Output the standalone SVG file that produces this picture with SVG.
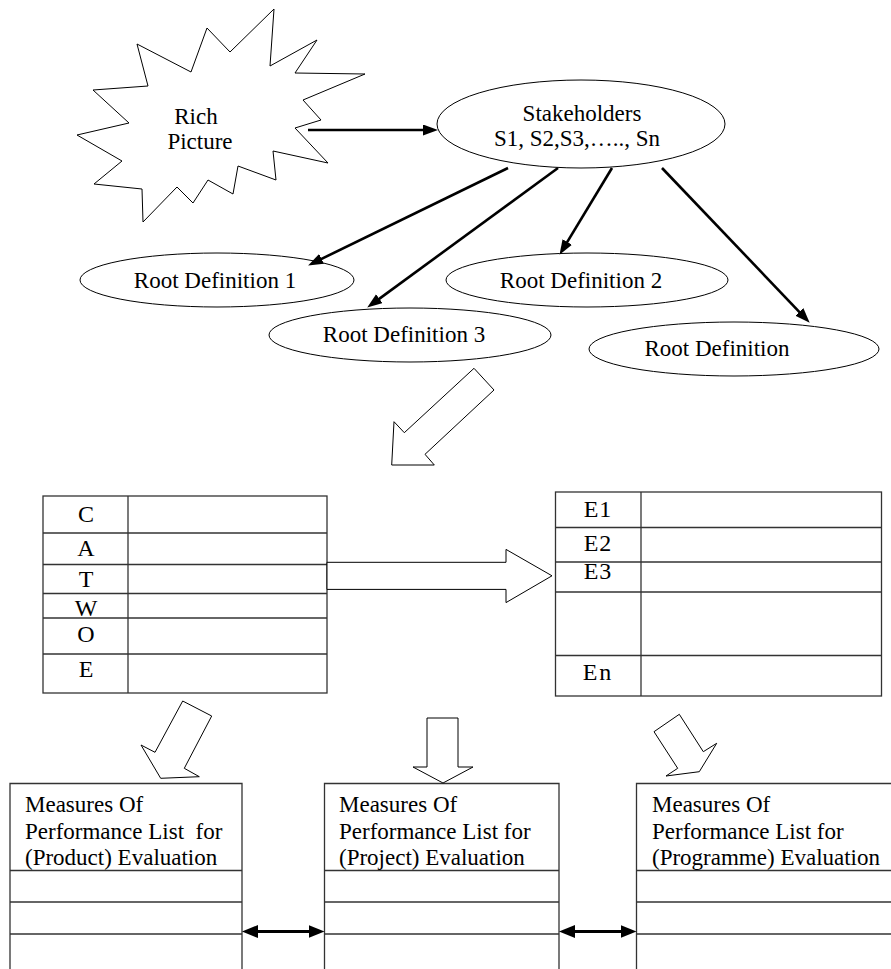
<svg xmlns="http://www.w3.org/2000/svg" width="891" height="969" viewBox="0 0 891 969" font-family="'Liberation Serif', 'Times New Roman', Times, 'DejaVu Serif', serif">
  <style>
    text { font-family: 'Liberation Serif', 'Times New Roman', Times, 'DejaVu Serif', serif; font-size: 23px; fill: #000; }
    .mid { text-anchor: middle; }
    .shape { fill: #fff; stroke: #000; stroke-width: 1; }
    .tbl { fill: none; stroke: #333; stroke-width: 1.3; }
    .conn { fill: none; stroke: #000; stroke-width: 2.6; }
    .dbl { fill: none; stroke: #000; stroke-width: 3.2; }
    .hollow { fill: #fff; stroke: #000; stroke-width: 1; stroke-linejoin: miter; }
    .cat { font-size: 24px; }
  </style>
  <defs>
    <marker id="head" markerUnits="userSpaceOnUse" markerWidth="16" markerHeight="12" refX="4" refY="5.5" orient="auto">
      <path d="M0,0 L15,5.5 L0,11 z" fill="#000"/>
    </marker>
    <marker id="head2" markerUnits="userSpaceOnUse" markerWidth="17" markerHeight="14" refX="6" refY="6.5" orient="auto-start-reverse">
      <path d="M0,0 L16,6.5 L0,13 z" fill="#000"/>
    </marker>
  </defs>

  <rect width="891" height="969" fill="#fff"/>

  <!-- Rich picture starburst -->
  <g id="rich-picture">
    <polygon class="shape" points="274,9 270,66 317,40 295,73 365,74 303,100 321,120 295,128 328,163 273,151 276,180 238,166 233,194 208,180 193,203 177,187 143,222 142,189 94,184 122,161 77,135 129,123 93,90 148,86 137,44 191,72 207,28 230,52"/>
    <text class="mid" x="196" y="124">Rich</text>
    <text class="mid" x="200" y="149">Picture</text>
  </g>

  <g id="stakeholders">
    <ellipse class="shape" cx="581" cy="124" rx="144" ry="44"/>
    <text class="mid" x="582" y="120.5">Stakeholders</text>
    <text class="mid" x="577" y="146">S1, S2,S3,….., Sn</text>
  </g>

  <g id="root-def-1">
    <ellipse class="shape" cx="217" cy="280" rx="137" ry="27"/>
    <text class="mid" x="215" y="288">Root Definition 1</text>
  </g>
  <g id="root-def-2">
    <ellipse class="shape" cx="587" cy="280" rx="141" ry="27"/>
    <text class="mid" x="581" y="288">Root Definition 2</text>
  </g>
  <g id="root-def-3">
    <ellipse class="shape" cx="410" cy="335" rx="141" ry="27"/>
    <text class="mid" x="404" y="342">Root Definition 3</text>
  </g>
  <g id="root-def-n">
    <ellipse class="shape" cx="734" cy="349" rx="145" ry="27"/>
    <text class="mid" x="717" y="356">Root Definition</text>
  </g>

  <!-- CATWOE table -->
  <g id="catwoe-table">
    <rect class="tbl" x="43" y="496" width="284" height="197"/>
    <line class="tbl" x1="128" y1="496" x2="128" y2="693"/>
    <line class="tbl" x1="43" y1="533" x2="327" y2="533"/>
    <line class="tbl" x1="43" y1="564.5" x2="327" y2="564.5"/>
    <line class="tbl" x1="43" y1="593.5" x2="327" y2="593.5"/>
    <line class="tbl" x1="43" y1="618" x2="327" y2="618"/>
    <line class="tbl" x1="43" y1="654" x2="327" y2="654"/>
    <text class="mid cat" x="86" y="522">C</text>
    <text class="mid cat" x="86" y="556">A</text>
    <text class="mid cat" x="86" y="587">T</text>
    <text class="mid cat" x="86" y="616">W</text>
    <text class="mid cat" x="86" y="642">O</text>
    <text class="mid cat" x="86" y="677">E</text>
  </g>

  <!-- Evaluation table -->
  <g id="e-table">
    <rect class="tbl" x="555.5" y="492" width="326" height="204"/>
    <line class="tbl" x1="641" y1="492" x2="641" y2="696"/>
    <line class="tbl" x1="555.5" y1="527.5" x2="881.5" y2="527.5"/>
    <line class="tbl" x1="555.5" y1="562" x2="881.5" y2="562"/>
    <line class="tbl" x1="555.5" y1="592" x2="881.5" y2="592"/>
    <line class="tbl" x1="555.5" y1="655.5" x2="881.5" y2="655.5"/>
    <text class="mid cat" x="598" y="517" letter-spacing="1">E1</text>
    <text class="mid cat" x="598" y="551" letter-spacing="1">E2</text>
    <text class="mid cat" x="598" y="579" letter-spacing="1">E3</text>
    <text class="mid cat" x="598" y="680" letter-spacing="2">En</text>
  </g>

  <!-- Measures of performance lists -->
  <g id="mop-product">
    <polyline class="tbl" points="10,969 10,783.5 242,783.5 242,969"/>
    <line class="tbl" x1="10" y1="870.5" x2="242" y2="870.5"/>
    <line class="tbl" x1="10" y1="902" x2="242" y2="902"/>
    <line class="tbl" x1="10" y1="934" x2="242" y2="934"/>
    <text x="25" y="812">Measures Of</text>
    <text x="25" y="838.5" xml:space="preserve">Performance List  for</text>
    <text x="25" y="864.5">(Product) Evaluation</text>
  </g>
  <g id="mop-project">
    <polyline class="tbl" points="324.5,969 324.5,783.5 559,783.5 559,969"/>
    <line class="tbl" x1="324.5" y1="870.5" x2="559" y2="870.5"/>
    <line class="tbl" x1="324.5" y1="902" x2="559" y2="902"/>
    <line class="tbl" x1="324.5" y1="934" x2="559" y2="934"/>
    <text x="339" y="812">Measures Of</text>
    <text x="339" y="838.5">Performance List for</text>
    <text x="339" y="864.5">(Project) Evaluation</text>
  </g>
  <g id="mop-programme">
    <polyline class="tbl" points="636.5,969 636.5,783.5 891,783.5"/>
    <line class="tbl" x1="636.5" y1="870.5" x2="891" y2="870.5"/>
    <line class="tbl" x1="636.5" y1="902" x2="891" y2="902"/>
    <line class="tbl" x1="636.5" y1="934" x2="891" y2="934"/>
    <text x="652" y="812">Measures Of</text>
    <text x="652" y="838.5">Performance List for</text>
    <text x="652" y="864.5">(Programme) Evaluation</text>
  </g>

  <!-- Connectors -->
  <g id="connectors">
    <line class="conn" x1="308" y1="130" x2="427" y2="130" marker-end="url(#head)"/>
    <line class="conn" x1="508" y1="168" x2="318" y2="260.6" marker-end="url(#head)"/>
    <line class="conn" x1="558" y1="168" x2="376.1" y2="301.1" marker-end="url(#head)"/>
    <line class="conn" x1="612" y1="168" x2="565.2" y2="245.4" marker-end="url(#head)"/>
    <line class="conn" x1="662" y1="168" x2="802.1" y2="314.8" marker-end="url(#head)"/>

    <!-- block arrows -->
    <polygon class="hollow" points="474,368.3 494,390 425,454.3 434.3,465 391.7,465 394,421.7 404.3,432.7"/>
    <polygon class="hollow" points="327,562.3 506,562.3 506,549.4 552,575.8 506,602.6 506,589.4 327,589.4"/>
    <polygon class="hollow" points="182.7,701 211.7,716 184.3,768.3 199.3,776.7 160.7,778.3 141,745 155,752.3"/>
    <polygon class="hollow" points="427,718 458,718 458,767 473,767 443,783 413,767 427,767"/>
    <polygon class="hollow" points="679.3,714.3 703.3,751.7 716.7,743.3 699.3,771.7 666,776 677.7,768.3 654,731.7"/>

    <!-- two-way links between lists -->
    <line class="dbl" x1="252" y1="931.5" x2="314.5" y2="931.5" marker-start="url(#head2)" marker-end="url(#head2)"/>
    <line class="dbl" x1="569" y1="931.5" x2="626.5" y2="931.5" marker-start="url(#head2)" marker-end="url(#head2)"/>
  </g>
</svg>
